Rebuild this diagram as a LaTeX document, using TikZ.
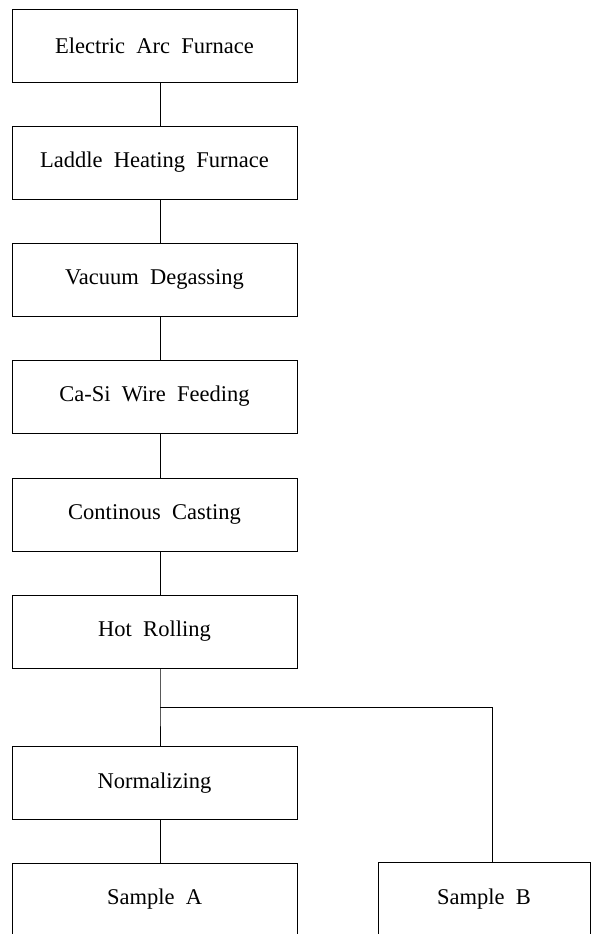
\documentclass[tikz,border=0pt]{standalone}
\usepackage{fontspec}
\setmainfont{Liberation Serif}
\begin{document}
\begin{tikzpicture}[x=1pt,y=-1pt,
  procbox/.style={draw, line width=0.9pt, minimum width=285pt, minimum height=73pt, inner sep=0pt, font=\fontsize{22.5}{26}\selectfont, align=center},
  conn/.style={line width=0.9pt}]
\useasboundingbox (0,0) rectangle (594,934);
\node[procbox] (a) at (154.5,45.5) {Electric\ \ Arc\ \ Furnace};
\node[procbox] (b) at (154.5,162.5) {Laddle\ \ Heating\ \ Furnace};
\node[procbox] (c) at (154.5,279.5) {Vacuum\ \ Degassing};
\node[procbox] (d) at (154.5,396.5) {Ca-Si\ \ Wire\ \ Feeding};
\node[procbox] (e) at (154.5,514.5) {Continous\ \ Casting};
\node[procbox] (f) at (154.5,631.5) {Hot\ \ Rolling};
\node[procbox] (n) at (154.5,783) {Normalizing};
\node[procbox] (sa) at (154.5,899.5) {Sample\ \ A};
\node[procbox, minimum width=212pt] (sb) at (484,899) {Sample\ \ B};
\coordinate (cx) at (160,0);
\coordinate (bx) at (492,0);
\coordinate (j) at (160,707);
\draw[conn] (a.south -| cx) -- (b.north -| cx);
\draw[conn] (b.south -| cx) -- (c.north -| cx);
\draw[conn] (c.south -| cx) -- (d.north -| cx);
\draw[conn] (d.south -| cx) -- (e.north -| cx);
\draw[conn] (e.south -| cx) -- (f.north -| cx);
\draw[conn] (f.south -| cx) -- (j) -- (n.north -| cx);
\draw[conn] (n.south -| cx) -- (sa.north -| cx);
\draw[conn] (j) -- (j -| bx) -- (sb.north -| bx);
\end{tikzpicture}
\end{document}
